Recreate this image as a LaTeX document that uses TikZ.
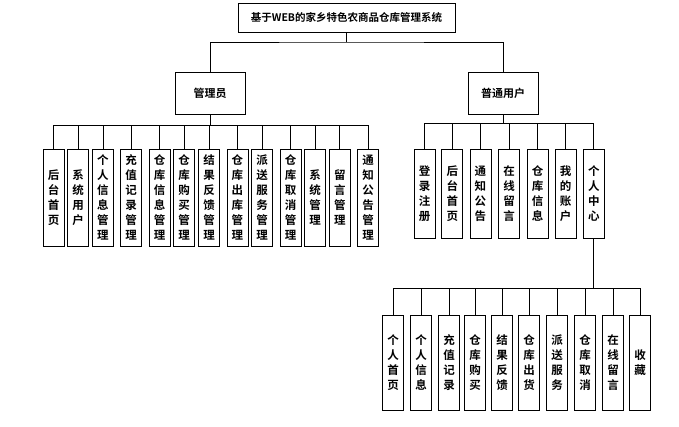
\documentclass[tikz,border=0pt]{standalone}
\usepackage{fontspec}
\newfontfamily\cjk{Noto Sans CJK SC Bold}
\begin{document}
\begin{tikzpicture}[x=1pt,y=-1pt,
  box/.style={draw,line width=0.8pt,inner sep=0pt,font=\cjk},
  leaf/.style={box,minimum width=21pt,align=center,font=\cjk\fontsize{11.5}{15}\selectfont},
  ln/.style={line width=0.8pt}]
\useasboundingbox (0,0) rectangle (679,427);
\node[box,minimum width=217pt,minimum height=29pt,font=\cjk\fontsize{10.5}{12}\selectfont] (t) at (346.5,17.5) {基于WEB的家乡特色农商品仓库管理系统};
\node[box,minimum width=70pt,minimum height=42pt,font=\cjk\fontsize{11}{12}\selectfont] (a) at (210,93) {管理员};
\node[box,minimum width=70pt,minimum height=42pt,font=\cjk\fontsize{11}{12}\selectfont] (u) at (503,93) {普通用户};
\coordinate (tb) at (346.5,42);
\draw[ln] (t.south) -- (tb) (a.north) |- (tb) -| (u.north);
% admin leaves
\foreach \x/\t [count=\i] in {53.6/后\\台\\首\\页, 78.2/系\\统\\用\\户, 102.9/个\\人\\信\\息\\管\\理, 131/充\\值\\记\\录\\管\\理, 159.6/仓\\库\\信\\息\\管\\理, 184.2/仓\\库\\购\\买\\管\\理, 209.2/结\\果\\反\\馈\\管\\理, 237.4/仓\\库\\出\\库\\管\\理, 262/派\\送\\服\\务\\管\\理, 290.5/仓\\库\\取\\消\\管\\理, 315.2/系\\统\\管\\理, 339.8/留\\言\\管\\理, 368/通\\知\\公\\告\\管\\理}{
  \node[leaf,minimum height=97pt,anchor=north] (a\i) at (\x,149) {\t};
  \draw[ln] (a\i.north) -- (\x,125);
}
\draw[ln] (a1.north |- 0,125) -- (a13.north |- 0,125);
\draw[ln] (a.south) -- (210,125);
% user leaves
\foreach \x/\t [count=\i] in {424.6/登\\录\\注\\册, 452.3/后\\台\\首\\页, 480.4/通\\知\\公\\告, 509/在\\线\\留\\言, 537.6/仓\\库\\信\\息, 565.7/我\\的\\账\\户, 593.8/个\\人\\中\\心}{
  \node[leaf,minimum height=89pt,anchor=north] (u\i) at (\x,149) {\t};
  \draw[ln] (u\i.north) -- (\x,123);
}
\draw[ln] (u1.north |- 0,123) -- (u7.north |- 0,123);
\draw[ln] (u.south) -- (503,123);
% personal center leaves
\foreach \x/\t [count=\i] in {393/个\\人\\首\\页, 421/个\\人\\信\\息, 449/充\\值\\记\\录, 475/仓\\库\\购\\买, 502/结\\果\\反\\馈, 529/仓\\库\\出\\货, 557/派\\送\\服\\务, 585/仓\\库\\取\\消, 613/在\\线\\留\\言, 640/收\\藏}{
  \node[leaf,minimum height=95pt,anchor=north] (p\i) at (\x,315) {\t};
  \draw[ln] (p\i.north) -- (\x,288);
}
\draw[ln] (p1.north |- 0,288) -- (p10.north |- 0,288);
\draw[ln] (u7.south) -- (593.8,288);
\end{tikzpicture}
\end{document}
